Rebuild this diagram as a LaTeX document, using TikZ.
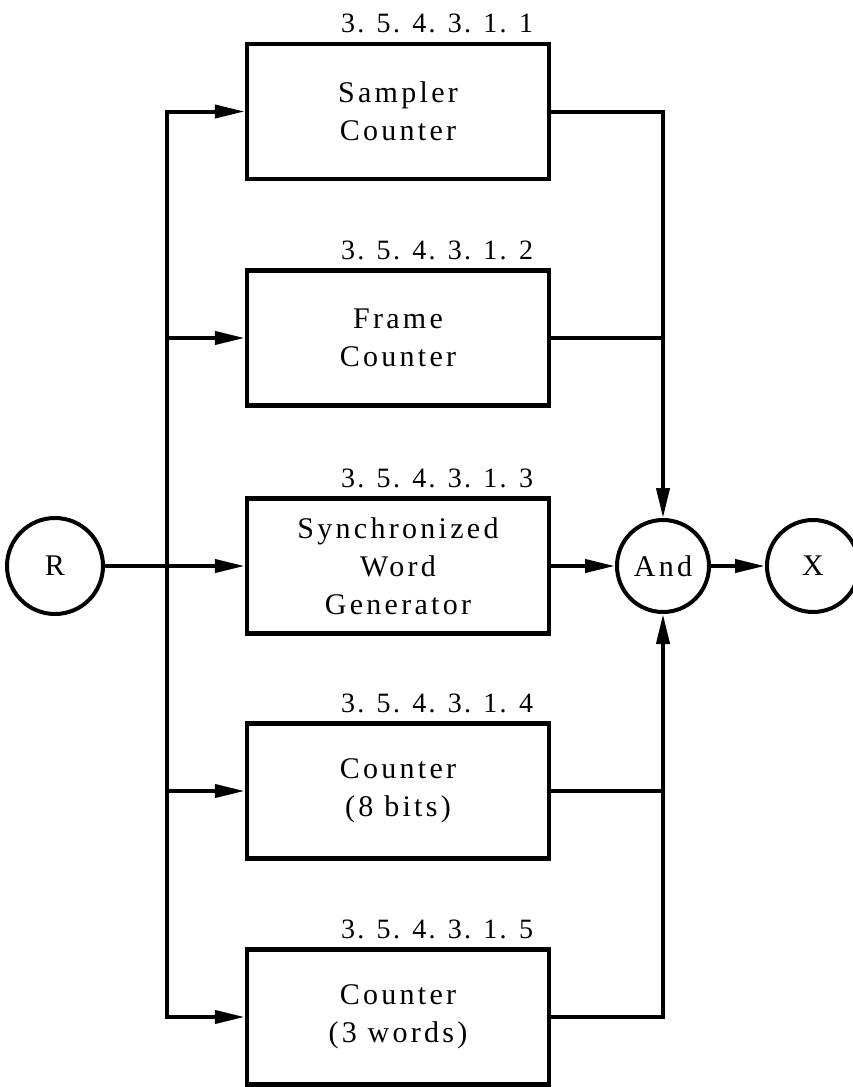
\documentclass[tikz,border=0pt]{standalone}
\usepackage{fontspec}
\newfontfamily\boxfont{Liberation Serif}[LetterSpace=11]
\newfontfamily\labfont{Liberation Serif}[LetterSpace=8]
\usetikzlibrary{arrows.meta,calc}
\begin{document}
\begin{tikzpicture}[x=0.5pt,y=-0.5pt,
  wire/.style={line width=2pt,line cap=rect,line join=miter},
  arr/.style={wire,-{Triangle[length=15pt,width=6.5pt]}},
  blk/.style={draw,line width=2.2pt,minimum width=151pt,minimum height=67.5pt,inner sep=0pt,align=center,
     font=\boxfont\fontsize{15}{19}\selectfont},
  circ/.style={draw,circle,line width=2pt,minimum size=46pt,inner sep=0pt,font=\boxfont\fontsize{15}{19}\selectfont},
  lab/.style={anchor=base west,inner sep=0pt,font=\labfont\fontsize{14}{16}\selectfont}]
\useasboundingbox (0,0) rectangle (852,1087);
% blocks
\node[blk] (b1) at (398,111.5) {Sampler\\Counter};
\node[blk] (b2) at (398,338) {Frame\\Counter};
\node[blk] (b3) at (398,566) {Synchronized\\Word\\Generator};
\node[blk] (b4) at (398,791) {Counter\\(8 bits)};
\node[blk] (b5) at (398,1017) {Counter\\(3 words)};
% labels
\node[lab] (l1) at ([shift={(96,-9)}]b1.north west) {3. 5. 4. 3. 1. 1};
\node[lab] (l2) at ([shift={(96,-9)}]b2.north west) {3. 5. 4. 3. 1. 2};
\node[lab] (l3) at ([shift={(96,-9)}]b3.north west) {3. 5. 4. 3. 1. 3};
\node[lab] (l4) at ([shift={(96,-9)}]b4.north west) {3. 5. 4. 3. 1. 4};
\node[lab] (l5) at ([shift={(96,-9)}]b5.north west) {3. 5. 4. 3. 1. 5};
% circles
\node[circ,minimum size=48pt] (R) at (55,566) {R};
\node[circ] (And) at (663,566) {And};
\node[circ] (X) at (813,566) {X};
% buses
\coordinate (lt) at (167,111.5);
\draw[arr] (lt) -- (b1.west);
\draw[arr] (lt) |- (b5.west);
\draw[arr] (b2.west -| lt) -- (b2.west);
\draw[arr] (b4.west -| lt) -- (b4.west);
\draw[arr] (R) -- (b3);
\draw[arr] (b1.east) -| (And.north);
\draw[arr] (b5.east) -| (And.south);
\draw[wire] (b2.east) -- (b2.east -| And.north);
\draw[wire] (b4.east) -- (b4.east -| And.south);
\draw[arr] (b3) -- (And);
\draw[arr] (And) -- (X);
\end{tikzpicture}
\end{document}
